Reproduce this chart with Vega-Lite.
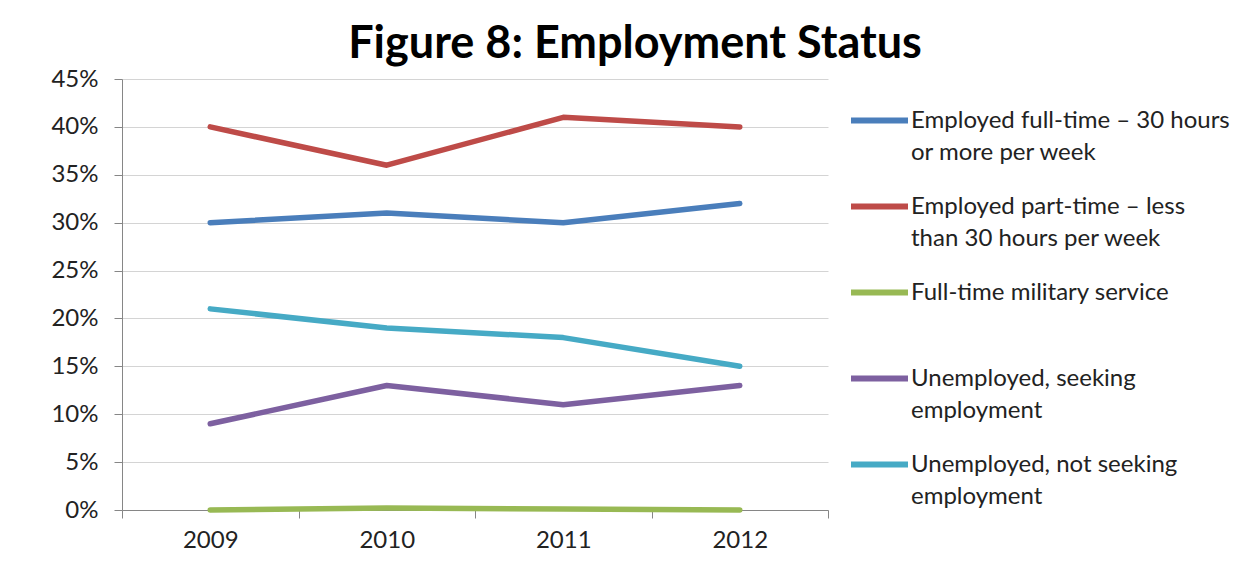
{
  "$schema": "https://vega.github.io/schema/vega-lite/v6.json",
  "width": 706,
  "height": 431,
  "autosize": {"type": "none"},
  "padding": {"left": 122, "top": 79, "right": 425, "bottom": 61},
  "background": "white",
  "title": {
    "text": "Figure 8: Employment Status",
    "font": "Lato",
    "fontSize": 45,
    "fontWeight": "bold",
    "color": "#000000",
    "anchor": "middle",
    "dx": 160,
    "offset": 0
  },
  "data": {
    "values": [
      {"year": "2009", "status": "Employed full-time – 30 hours or more per week", "value": 0.30},
      {"year": "2010", "status": "Employed full-time – 30 hours or more per week", "value": 0.31},
      {"year": "2011", "status": "Employed full-time – 30 hours or more per week", "value": 0.30},
      {"year": "2012", "status": "Employed full-time – 30 hours or more per week", "value": 0.32},
      {"year": "2009", "status": "Employed part-time – less than 30 hours per week", "value": 0.40},
      {"year": "2010", "status": "Employed part-time – less than 30 hours per week", "value": 0.36},
      {"year": "2011", "status": "Employed part-time – less than 30 hours per week", "value": 0.41},
      {"year": "2012", "status": "Employed part-time – less than 30 hours per week", "value": 0.40},
      {"year": "2009", "status": "Full-time military service", "value": 0.000},
      {"year": "2010", "status": "Full-time military service", "value": 0.002},
      {"year": "2011", "status": "Full-time military service", "value": 0.001},
      {"year": "2012", "status": "Full-time military service", "value": 0.000},
      {"year": "2009", "status": "Unemployed, seeking employment", "value": 0.09},
      {"year": "2010", "status": "Unemployed, seeking employment", "value": 0.13},
      {"year": "2011", "status": "Unemployed, seeking employment", "value": 0.11},
      {"year": "2012", "status": "Unemployed, seeking employment", "value": 0.13},
      {"year": "2009", "status": "Unemployed, not seeking employment", "value": 0.21},
      {"year": "2010", "status": "Unemployed, not seeking employment", "value": 0.19},
      {"year": "2011", "status": "Unemployed, not seeking employment", "value": 0.18},
      {"year": "2012", "status": "Unemployed, not seeking employment", "value": 0.15}
    ]
  },
  "mark": {"type": "line", "strokeWidth": 5.5, "strokeCap": "round", "strokeJoin": "round"},
  "encoding": {
    "x": {
      "field": "year",
      "type": "ordinal",
      "scale": {"type": "band", "paddingInner": 0, "paddingOuter": 0},
      "axis": {
        "title": null,
        "labelAngle": 0,
        "tickBand": "extent",
        "grid": false,
        "domainColor": "#868686",
        "tickColor": "#868686",
        "tickSize": 8,
        "labelFont": "Lato",
        "labelFontSize": 24,
        "labelColor": "#222222",
        "labelPadding": 10
      }
    },
    "y": {
      "field": "value",
      "type": "quantitative",
      "scale": {"domain": [0, 0.45], "nice": false},
      "axis": {
        "title": null,
        "format": ".0%",
        "values": [0, 0.05, 0.1, 0.15, 0.2, 0.25, 0.3, 0.35, 0.4, 0.45],
        "gridColor": "#d4d4d4",
        "gridWidth": 1,
        "domainColor": "#868686",
        "tickColor": "#868686",
        "tickSize": 8,
        "labelFont": "Lato",
        "labelFontSize": 24,
        "labelColor": "#222222",
        "labelPadding": 16
      }
    },
    "color": {
      "field": "status",
      "type": "nominal",
      "scale": {
        "domain": [
          "Employed full-time – 30 hours or more per week",
          "Employed part-time – less than 30 hours per week",
          "Full-time military service",
          "Unemployed, seeking employment",
          "Unemployed, not seeking employment"
        ],
        "range": ["#4a7ebb", "#be4b48", "#98b954", "#7d60a0", "#46aac5"]
      },
      "legend": {
        "title": null,
        "orient": "none",
        "legendX": 726,
        "legendY": 10,
        "symbolType": "M-1,0H1",
        "symbolSize": 3249,
        "symbolStrokeWidth": 6,
        "labelFont": "Lato",
        "labelFontSize": 24,
        "labelColor": "#222222",
        "labelLimit": 500,
        "labelOffset": 0,
        "labelBaseline": "middle",
        "rowPadding": 10,
        "encode": {
          "labels": {"update": {"lineHeight": {"value": 32}}}
        },
        "labelExpr": "datum.label == 'Employed full-time – 30 hours or more per week' ? ['Employed full-time – 30 hours', 'or more per week'] : datum.label == 'Employed part-time – less than 30 hours per week' ? ['Employed part-time – less', 'than 30 hours per week'] : datum.label == 'Full-time military service' ? ['Full-time military service', ' '] : datum.label == 'Unemployed, seeking employment' ? ['Unemployed, seeking', 'employment'] : ['Unemployed, not seeking', 'employment']"
      }
    }
  },
  "config": {
    "view": {"stroke": null},
    "legend": {"symbolStrokeColor": null}
  }
}
